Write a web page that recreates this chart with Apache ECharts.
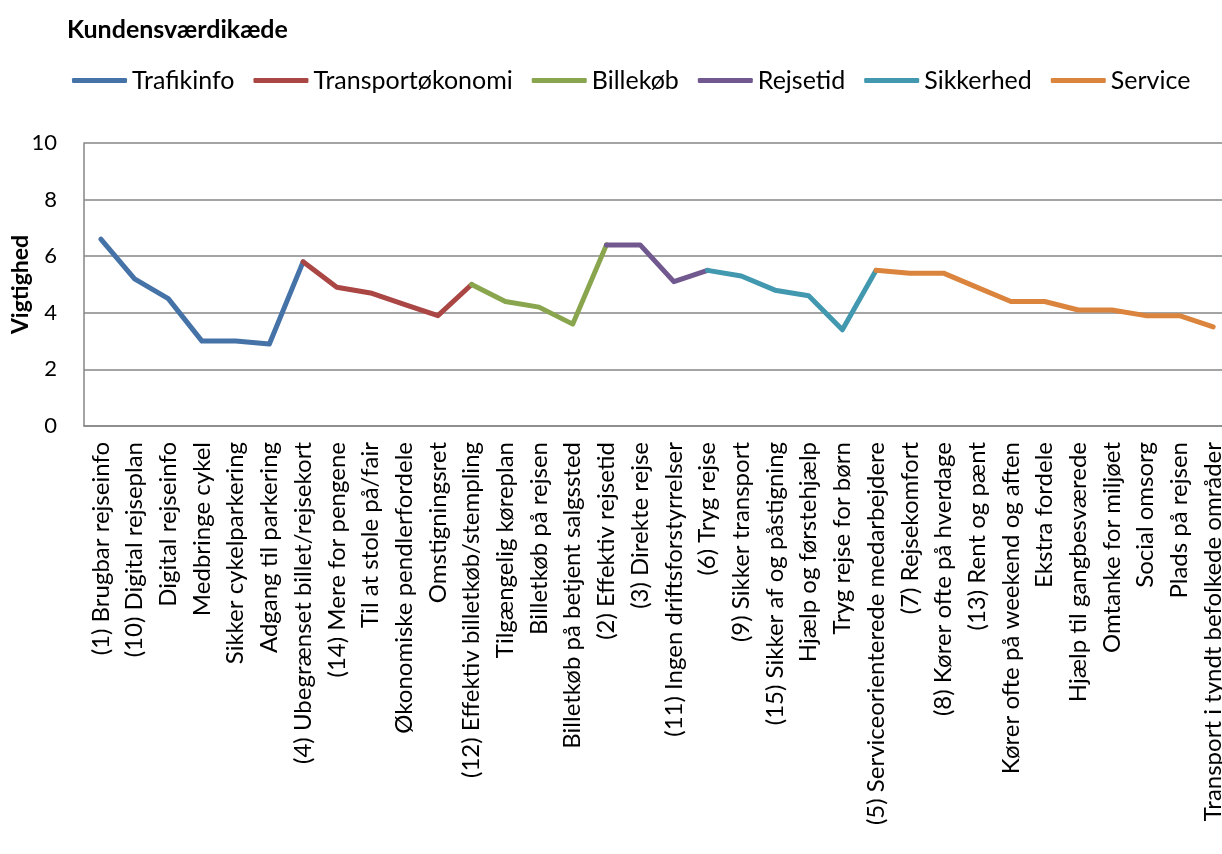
<!DOCTYPE html>
<html>
<head>
<meta charset="utf-8">
<script src="https://cdn.jsdelivr.net/npm/echarts@6/dist/echarts.min.js"></script>
<style>
  html, body { margin: 0; padding: 0; background: #fff; }
  #main { width: 1222px; height: 854px; }
</style>
</head>
<body>
<div id="main"></div>
<script>
const categories = [
  '(1) Brugbar rejseinfo', '(10) Digital rejseplan', 'Digital rejseinfo', 'Medbringe cykel',
  'Sikker cykelparkering', 'Adgang til parkering', '(4) Ubegrænset billet/rejsekort',
  '(14) Mere for pengene', 'Til at stole på/fair', 'Økonomiske pendlerfordele', 'Omstigningsret',
  '(12) Effektiv billetkøb/stempling', 'Tilgængelig køreplan', 'Billetkøb på rejsen',
  'Billetkøb på betjent salgssted', '(2) Effektiv rejsetid', '(3) Direkte rejse',
  '(11) Ingen driftsforstyrrelser', '(6) Tryg rejse', '(9) Sikker transport',
  '(15) Sikker af og påstigning', 'Hjælp og førstehjælp', 'Tryg rejse for børn',
  '(5) Serviceorienterede medarbejdere', '(7) Rejsekomfort', '(8) Kører ofte på hverdage',
  '(13) Rent og pænt', 'Kører ofte på weekend og aften', 'Ekstra fordele',
  'Hjælp til gangbesværede', 'Omtanke for miljøet', 'Social omsorg', 'Plads på rejsen',
  'Transport i tyndt befolkede områder'
];

const values = [
  6.6, 5.2, 4.5, 3.0, 3.0, 2.9, 5.8,
  4.9, 4.7, 4.3, 3.9, 5.0,
  4.4, 4.2, 3.6, 6.4,
  6.4, 5.1, 5.5,
  5.3, 4.8, 4.6, 3.4, 5.5,
  5.4, 5.4, 4.9, 4.4, 4.4, 4.1, 4.1, 3.9, 3.9, 3.5
];

// each group runs from its first index to the first point of the next group
const groupNames = ['Trafikinfo', 'Transportøkonomi', 'Billekøb', 'Rejsetid', 'Sikkerhed', 'Service'];
const groupStart = [0, 6, 11, 15, 18, 23];
const groupEnd = [6, 11, 15, 18, 23, 33];
const colors = ['#4572A7', '#AA4643', '#89A54E', '#71588F', '#4198AF', '#DB843D'];

const yTicks = [0, 2, 4, 6, 8, 10];

const font = 'Lato, "Open Sans", sans-serif';

const series = groupNames.map((name, g) => ({
  name: name,
  type: 'line',
  symbol: 'none',
  data: values.map((v, i) => (i >= groupStart[g] && i <= groupEnd[g]) ? v : null),
  lineStyle: { width: 5, color: colors[g], cap: 'round', join: 'round' },
  itemStyle: { color: colors[g] }
}));

const chart = echarts.init(document.getElementById('main'), null, { renderer: 'canvas' });
chart.setOption({
  animation: false,
  title: {
    text: 'Kundensværdikæde',
    left: 62,
    top: 12,
    textStyle: { fontFamily: font, fontWeight: 'bold', fontSize: 25, color: '#000' }
  },
  legend: {
    data: groupNames,
    left: 72,
    top: 68,
    padding: 0,
    icon: 'roundRect',
    itemWidth: 55,
    itemHeight: 5,
    itemGap: 19,
    textStyle: { fontFamily: font, fontSize: 25, color: '#000' }
  },
  grid: { left: 84, top: 143, right: -8, bottom: 428, outerBoundsMode: 'none' },
  xAxis: {
    type: 'category',
    data: categories,
    boundaryGap: true,
    axisLine: { lineStyle: { color: '#868686', width: 1.5 } },
    axisTick: { alignWithLabel: true, length: 6, lineStyle: { color: '#868686', width: 1.5 } },
    axisLabel: {
      interval: 0,
      rotate: 90,
      margin: 16,
      fontFamily: font,
      fontSize: 24,
      color: '#000'
    }
  },
  yAxis: {
    type: 'value',
    min: yTicks[0],
    max: yTicks[yTicks.length - 1],
    interval: 2,
    name: 'Vigtighed',
    nameLocation: 'middle',
    nameGap: 52,
    nameMoveOverlap: false,
    nameTextStyle: { fontFamily: font, fontWeight: 'bold', fontSize: 23, color: '#000' },
    axisLine: { show: true, lineStyle: { color: '#868686', width: 1.5 } },
    axisTick: { show: false },
    axisLabel: { fontFamily: font, fontSize: 22, color: '#000', margin: 27 },
    splitLine: { lineStyle: { color: '#868686', width: 1.5 } }
  },
  series: series
});
</script>
</body>
</html>
